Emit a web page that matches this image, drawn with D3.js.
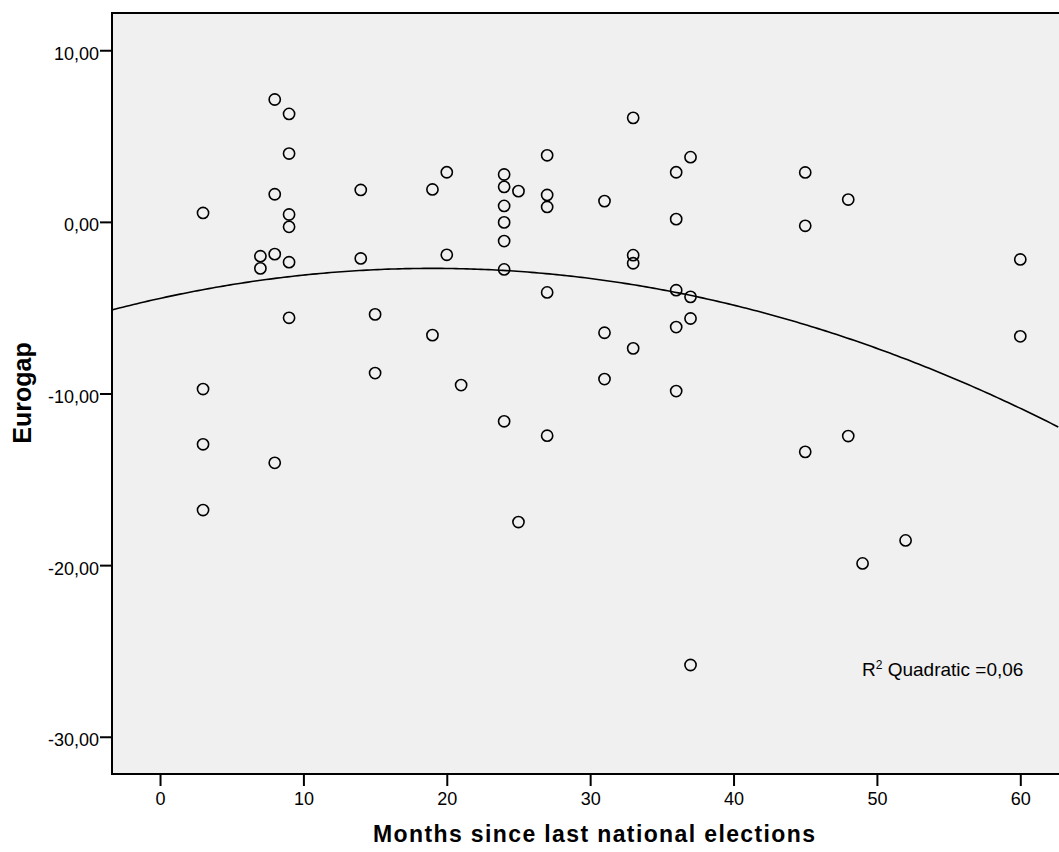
<!DOCTYPE html>
<html>
<head>
<meta charset="utf-8">
<script src="https://cdn.jsdelivr.net/npm/d3@7"></script>
<style>
	body { margin: 0; background: #fff; }
	svg { display: block; font-family: Arial, 'Liberation Sans', sans-serif; }
</style>
</head>
<body>
<svg width="1059" height="852"></svg>
<script>
// months since last national elections, one entry per country-point
const months = [
	3, 3, 3, 3,
	7, 7,
	8, 8, 8, 8,
	9, 9, 9, 9, 9, 9,
	14, 14,
	15, 15,
	19, 19,
	20, 20,
	21,
	24, 24, 24, 24, 24, 24, 24,
	25, 25,
	27, 27, 27, 27, 27,
	31, 31, 31,
	33, 33, 33, 33,
	36, 36, 36, 36, 36,
	37, 37, 37, 37,
	45, 45, 45,
	48, 48,
	49,
	52,
	60, 60
];

const eurogap = [
	0.52, -9.74, -12.96, -16.79,
	-2.0, -2.71,
	7.13, 1.61, -1.88, -14.04,
	6.29, 3.98, 0.43, -0.29, -2.35, -5.59,
	1.86, -2.13,
	-5.39, -8.81,
	1.89, -6.6,
	2.89, -1.92,
	-9.51,
	2.76, 2.04, 0.93, -0.03, -1.12, -2.77, -11.62,
	1.79, -17.49,
	3.88, 1.57, 0.87, -4.11, -12.46,
	1.21, -6.46, -9.16,
	6.06, -1.94, -2.41, -7.37,
	2.89, 0.16, -3.98, -6.13, -9.86,
	3.77, -4.37, -5.63, -25.82,
	2.88, -0.23, -13.4,
	1.3, -12.48,
	-19.9,
	-18.56,
	-2.19, -6.67
];

const xTicks = [0, 10, 20, 30, 40, 50, 60];
const yTicks = [-30, -20, -10, 0, 10];

// quadratic fit y = a + b*x + c*x^2
const fitA = -4.459,
	fitB = 0.1842,
	fitC = -0.004849;
const fitLabel = 'Quadratic =0,06';

const svg = d3.select('svg'),
	plotLeft = 112,
	plotRight = 1059,
	plotTop = 13,
	plotBottom = 774;

const x = d3.scaleLinear().domain([-3.35, 62.7]).range([plotLeft, plotRight]);
const y = d3.scaleLinear().domain([-32.17, 12.17]).range([plotBottom, plotTop]);

const commaFormat = d => d.toFixed(2).replace('.', ',');

svg.append('defs').append('clipPath').attr('id', 'plot-clip')
	.append('rect')
	.attr('x', plotLeft).attr('y', plotTop)
	.attr('width', plotRight - plotLeft + 10).attr('height', plotBottom - plotTop);

// plot background
svg.append('rect')
	.attr('x', plotLeft).attr('y', plotTop)
	.attr('width', plotRight - plotLeft + 10).attr('height', plotBottom - plotTop)
	.attr('fill', '#f0f0f0');

const plot = svg.append('g').attr('clip-path', 'url(#plot-clip)');

// fit curve
let curveData = d3.range(-3.35, 62.8, 0.25).map(v => [v, fitA + fitB * v + fitC * v * v]);
plot.append('path')
	.datum(curveData)
	.attr('fill', 'none')
	.attr('stroke', '#000')
	.attr('stroke-width', 1.6)
	.attr('d', d3.line().x(d => x(d[0])).y(d => y(d[1])));

// points
plot.append('g')
	.selectAll('circle')
	.data(months.map((m, i) => ({m: m, g: eurogap[i]})))
	.enter().append('circle')
	.attr('cx', d => x(d.m))
	.attr('cy', d => y(d.g))
	.attr('r', 5.6)
	.attr('fill', 'none')
	.attr('stroke', '#000')
	.attr('stroke-width', 1.6);

// frame: left, top and bottom edges
svg.append('path')
	.attr('d', `M${plotRight + 5},${plotTop}H${plotLeft}V${plotBottom}H${plotRight + 5}`)
	.attr('fill', 'none')
	.attr('stroke', '#000')
	.attr('stroke-width', 2);

// x axis
let xAxis = svg.append('g')
	.attr('transform', `translate(0,${plotBottom})`)
	.call(d3.axisBottom(x).tickValues(xTicks).tickSize(12).tickPadding(6).tickFormat(d3.format('d')));
xAxis.select('.domain').remove();
xAxis.selectAll('.tick line').attr('stroke', '#000').attr('stroke-width', 2);
xAxis.selectAll('.tick text')
	.attr('font-size', 18)
	.attr('font-family', 'Arial, Liberation Sans, sans-serif')
	.attr('fill', '#000');

// y axis
let yAxis = svg.append('g')
	.attr('transform', `translate(${plotLeft},0)`)
	.call(d3.axisLeft(y).tickValues(yTicks).tickSize(12).tickPadding(1).tickFormat(commaFormat));
yAxis.select('.domain').remove();
yAxis.selectAll('.tick line').attr('stroke', '#000').attr('stroke-width', 2);
yAxis.selectAll('.tick text')
	.attr('font-size', 18)
	.attr('font-family', 'Arial, Liberation Sans, sans-serif')
	.attr('fill', '#000')
	.attr('dy', '0.5em');

// axis titles
svg.append('text')
	.attr('x', 594)
	.attr('y', 842)
	.attr('text-anchor', 'middle')
	.attr('font-size', 23)
	.attr('font-weight', 'bold')
	.attr('textLength', 442)
	.attr('lengthAdjust', 'spacing')
	.text('Months since last national elections');

svg.append('text')
	.attr('transform', 'translate(31,393) rotate(-90)')
	.attr('text-anchor', 'middle')
	.attr('font-size', 25)
	.attr('font-weight', 'bold')
	.text('Eurogap');

// R squared annotation
let rLabel = svg.append('text')
	.attr('x', 862)
	.attr('y', 676)
	.attr('font-size', 19)
	.attr('fill', '#000');
rLabel.append('tspan').text('R');
rLabel.append('tspan').attr('font-size', 12).attr('dy', -7).text('2');
rLabel.append('tspan').attr('dy', 7).text(' ' + fitLabel);
</script>
</body>
</html>
